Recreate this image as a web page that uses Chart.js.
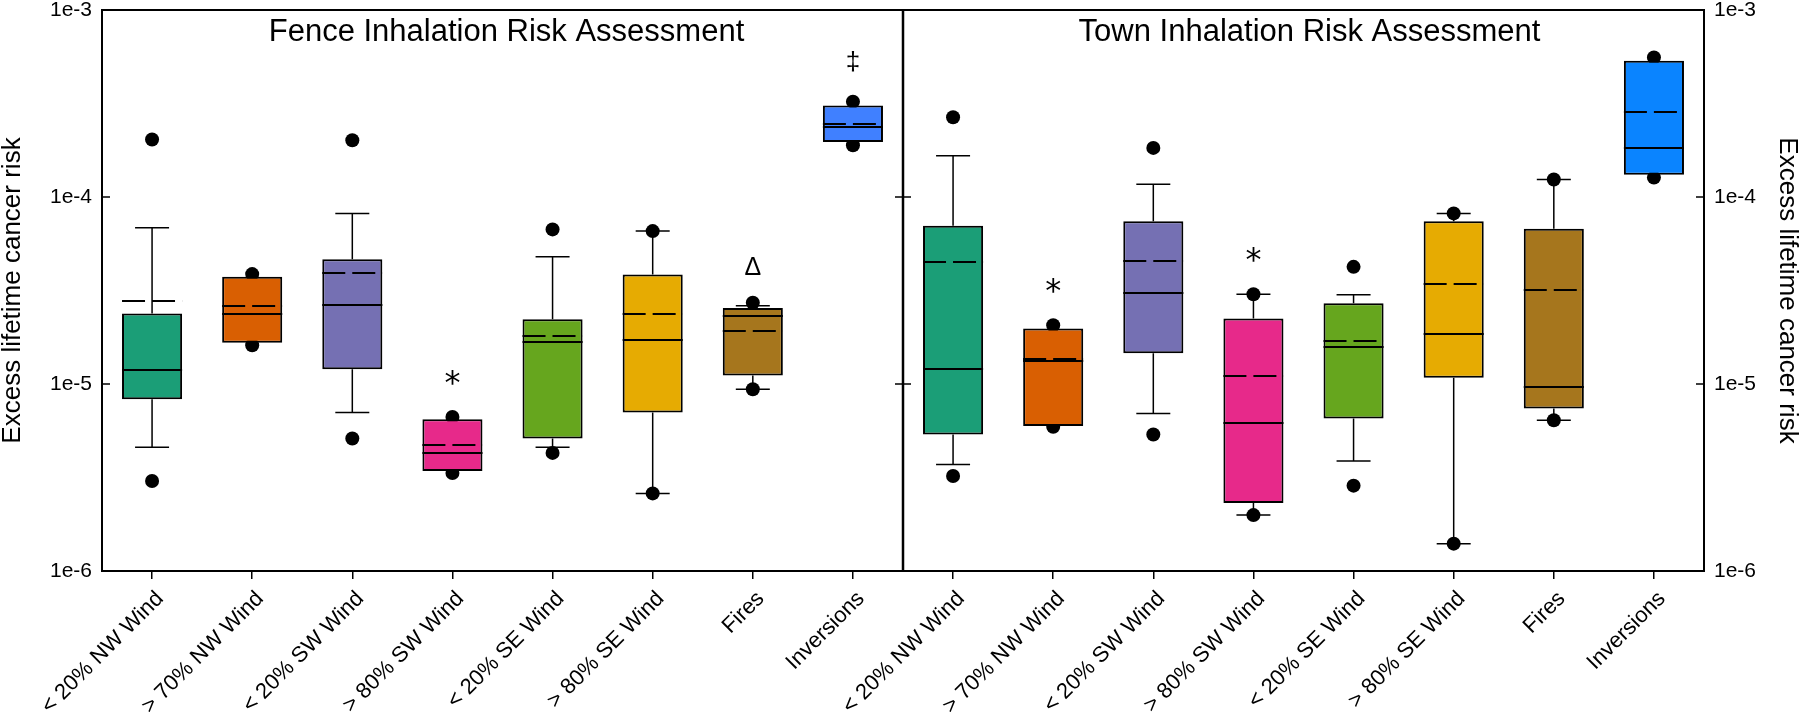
<!DOCTYPE html>
<html>
<head>
<meta charset="utf-8">
<title>Inhalation Risk Assessment</title>
<script src="https://cdn.jsdelivr.net/npm/chart.js@4.4.1/dist/chart.umd.min.js"></script>
<style>
  html, body { margin: 0; padding: 0; background: #fff; }
  canvas { display: block; }
</style>
</head>
<body>
<canvas id="risk" width="1800" height="712"></canvas>
<script>
const categories = ["< 20% NW Wind", "> 70% NW Wind", "< 20% SW Wind", "> 80% SW Wind",
  "< 20% SE Wind", "> 80% SE Wind", "Fires", "Inversions"];
const panelTitles = ["Fence Inhalation Risk Assessment", "Town Inhalation Risk Assessment"];
const yTicks = [1e-6, 1e-5, 1e-4, 1e-3];
const yTickLabels = ["1e-6", "1e-5", "1e-4", "1e-3"];

// fence panel
const fenceLow = [3.03e-6, 1.61e-5, 5.11e-6, 3.34e-6, 4.28e-6, 2.60e-6, 9.38e-6, 1.89e-4];
const fenceWhiskLow = [4.59e-6, 1.66e-5, 7.04e-6, 3.43e-6, 4.59e-6, 2.60e-6, 9.38e-6, 1.97e-4];
const fenceQ1 = [8.29e-6, 1.66e-5, 1.20e-5, 3.43e-6, 5.11e-6, 7.04e-6, 1.11e-5, 1.97e-4];
const fenceMedian = [1.19e-5, 2.36e-5, 2.63e-5, 4.30e-6, 1.68e-5, 1.72e-5, 2.31e-5, 2.37e-4];
const fenceMean = [2.77e-5, 2.61e-5, 3.90e-5, 4.71e-6, 1.81e-5, 2.36e-5, 1.92e-5, 2.46e-4];
const fenceQ3 = [2.38e-5, 3.74e-5, 4.64e-5, 6.48e-6, 2.22e-5, 3.85e-5, 2.55e-5, 3.09e-4];
const fenceWhiskHigh = [6.84e-5, 3.74e-5, 8.17e-5, 6.48e-6, 4.79e-5, 6.57e-5, 2.62e-5, 3.09e-4];
const fenceHigh = [2.03e-4, 3.87e-5, 2.01e-4, 6.67e-6, 6.71e-5, 6.57e-5, 2.72e-5, 3.23e-4];
const fenceMarks = ["", "", "", "*", "", "", "Δ", "‡"];

// town panel
const townLow = [3.22e-6, 5.90e-6, 5.37e-6, 1.99e-6, 2.86e-6, 1.40e-6, 6.40e-6, 1.27e-4];
const townWhiskLow = [3.71e-6, 5.97e-6, 6.95e-6, 1.99e-6, 3.88e-6, 1.40e-6, 6.40e-6, 1.315e-4];
const townQ1 = [5.37e-6, 5.97e-6, 1.46e-5, 2.31e-6, 6.54e-6, 1.08e-5, 7.39e-6, 1.315e-4];
const townMedian = [1.20e-5, 1.33e-5, 3.07e-5, 6.15e-6, 1.57e-5, 1.85e-5, 9.65e-6, 1.83e-4];
const townMean = [4.50e-5, 1.36e-5, 4.56e-5, 1.11e-5, 1.70e-5, 3.41e-5, 3.20e-5, 2.85e-4];
const townQ3 = [7.01e-5, 1.98e-5, 7.43e-5, 2.24e-5, 2.70e-5, 7.43e-5, 6.76e-5, 5.36e-4];
const townWhiskHigh = [1.66e-4, 1.98e-5, 1.17e-4, 3.02e-5, 3.00e-5, 8.17e-5, 1.24e-4, 5.36e-4];
const townHigh = [2.67e-4, 2.06e-5, 1.83e-4, 3.02e-5, 4.23e-5, 8.17e-5, 1.24e-4, 5.58e-4];
const townMarks = ["", "*", "", "*", "", "", "", ""];

const fenceColors = ["#1b9e77", "#d95f02", "#7570b3", "#e7298a", "#66a61e", "#e6ab02", "#a6761d", "#4080ff"];
const townColors = ["#1b9e77", "#d95f02", "#7570b3", "#e7298a", "#66a61e", "#e6ab02", "#a6761d", "#0a84ff"];

// both panels share one category axis, fence first then town
const labels = [...categories, ...categories];
const q1 = [...fenceQ1, ...townQ1];
const q3 = [...fenceQ3, ...townQ3];
const med = [...fenceMedian, ...townMedian];
const mean = [...fenceMean, ...townMean];
const whiskLow = [...fenceWhiskLow, ...townWhiskLow];
const whiskHigh = [...fenceWhiskHigh, ...townWhiskHigh];
const low = [...fenceLow, ...townLow];
const high = [...fenceHigh, ...townHigh];
const marks = [...fenceMarks, ...townMarks];

const FONT = '"Liberation Sans", Arial, sans-serif';
Chart.defaults.font.family = FONT;
Chart.defaults.color = "#000";

// font and baseline lift (px above the top dot) for each significance symbol
const markStyle = {
  "*": { font: '32px "DejaVu Sans", sans-serif', lift: 24 },
  "Δ": { font: "25px " + FONT, lift: 28 },
  "‡": { font: "26px " + FONT, lift: 32 }
};

const boxPlugin = {
  id: "boxExtras",
  afterDatasetsDraw(chart) {
    const { ctx, scales: { y } } = chart;
    const bars = chart.getDatasetMeta(0).data;
    ctx.save();
    ctx.strokeStyle = "#000";
    bars.forEach((bar, i) => {
      const cx = bar.x;
      const half = bar.width / 2;
      // whiskers with caps
      ctx.lineWidth = 1.5;
      ctx.setLineDash([]);
      [[q3[i], whiskHigh[i]], [q1[i], whiskLow[i]]].forEach(([from, to]) => {
        if (from === to) return;
        const y0 = y.getPixelForValue(from);
        const y1 = y.getPixelForValue(to);
        ctx.beginPath();
        ctx.moveTo(cx, y0);
        ctx.lineTo(cx, y1);
        ctx.moveTo(cx - 17, y1);
        ctx.lineTo(cx + 17, y1);
        ctx.stroke();
      });
      // median
      ctx.lineWidth = 2;
      let ym = Math.round(y.getPixelForValue(med[i]));
      ctx.beginPath();
      ctx.moveTo(cx - half, ym);
      ctx.lineTo(cx + half, ym);
      ctx.stroke();
      // mean, dashed
      ym = Math.round(y.getPixelForValue(mean[i]));
      ctx.setLineDash([23, 7]);
      ctx.beginPath();
      ctx.moveTo(cx - half, ym);
      ctx.lineTo(cx + half, ym);
      ctx.stroke();
      ctx.setLineDash([]);
      // significance marks
      const st = markStyle[marks[i]];
      if (st) {
        ctx.fillStyle = "#000";
        ctx.font = st.font;
        ctx.textAlign = "center";
        ctx.textBaseline = "alphabetic";
        ctx.fillText(marks[i], cx, y.getPixelForValue(high[i]) - st.lift);
      }
    });
    ctx.restore();
  },
  afterDraw(chart) {
    const { ctx, chartArea: a, scales: { x, y } } = chart;
    const divider = (x.getPixelForValue(7) + x.getPixelForValue(8)) / 2;
    ctx.save();
    ctx.strokeStyle = "#000";
    // top frame line and panel divider
    ctx.lineWidth = 2;
    ctx.beginPath();
    ctx.moveTo(a.left - 1, a.top);
    ctx.lineTo(a.right + 1, a.top);
    ctx.stroke();
    ctx.lineWidth = 2.5;
    ctx.beginPath();
    ctx.moveTo(divider, a.top);
    ctx.lineTo(divider, a.bottom);
    ctx.stroke();
    // inward decade ticks
    ctx.lineWidth = 1.5;
    yTicks.forEach((v) => {
      const py = Math.round(y.getPixelForValue(v));
      ctx.beginPath();
      ctx.moveTo(a.left, py);
      ctx.lineTo(a.left + 8, py);
      ctx.moveTo(a.right, py);
      ctx.lineTo(a.right - 8, py);
      ctx.moveTo(divider - 8, py);
      ctx.lineTo(divider + 8, py);
      ctx.stroke();
    });
    // panel titles
    ctx.fillStyle = "#000";
    ctx.font = "31px " + FONT;
    ctx.textAlign = "center";
    ctx.textBaseline = "alphabetic";
    ctx.fillText(panelTitles[0], (a.left + divider) / 2 + 4, a.top + 31);
    ctx.fillText(panelTitles[1], (divider + a.right) / 2 + 6, a.top + 31);
    ctx.restore();
  }
};

const yAxisCommon = {
  type: "logarithmic",
  min: 1e-6,
  max: 1e-3,
  afterBuildTicks: (s) => { s.ticks = yTicks.map((v) => ({ value: v })); },
  ticks: {
    font: { size: 21 },
    padding: 10,
    callback: (v) => yTickLabels[yTicks.indexOf(v)]
  },
  grid: { drawOnChartArea: false, drawTicks: false },
  border: { display: true, color: "#000", width: 2 },
  title: {
    display: true,
    text: "Excess lifetime cancer risk",
    font: { size: 26, lineHeight: 1 },
    padding: 0
  }
};

new Chart(document.getElementById("risk"), {
  type: "bar",
  data: {
    labels,
    datasets: [
      {
        type: "bar",
        data: q1.map((v, i) => [v, q3[i]]),
        backgroundColor: [...fenceColors, ...townColors],
        borderColor: "#000",
        borderWidth: 2,
        borderSkipped: false,
        categoryPercentage: 1,
        barPercentage: 0.6,
        order: 0
      },
      {
        type: "line",
        data: high,
        showLine: false,
        pointRadius: 7,
        pointHoverRadius: 7,
        pointBackgroundColor: "#000",
        pointBorderWidth: 0,
        order: 1
      },
      {
        type: "line",
        data: low,
        showLine: false,
        pointRadius: 7,
        pointHoverRadius: 7,
        pointBackgroundColor: "#000",
        pointBorderWidth: 0,
        order: 1
      }
    ]
  },
  options: {
    responsive: false,
    animation: false,
    layout: { padding: { top: 10, left: 0, right: 0, bottom: 0 } },
    plugins: { legend: { display: false }, tooltip: { enabled: false } },
    scales: {
      x: {
        type: "category",
        offset: true,
        grid: { drawOnChartArea: false, drawTicks: true, tickLength: 8, offset: false, color: "#000", lineWidth: 1.5 },
        border: { display: true, color: "#000", width: 2 },
        ticks: { font: { size: 22 }, minRotation: 45, maxRotation: 45, autoSkip: false, padding: 7, labelOffset: 8 },
        afterFit: (s) => { s.height = 141; s.paddingLeft = 0; s.paddingRight = 0; }
      },
      y: {
        ...yAxisCommon,
        position: "left",
        afterFit: (s) => { s.width = 102; s.paddingTop = 0; s.paddingBottom = 0; }
      },
      y2: {
        ...yAxisCommon,
        position: "right",
        afterFit: (s) => { s.width = 96; s.paddingTop = 0; s.paddingBottom = 0; }
      }
    }
  },
  plugins: [boxPlugin]
});
</script>
</body>
</html>
